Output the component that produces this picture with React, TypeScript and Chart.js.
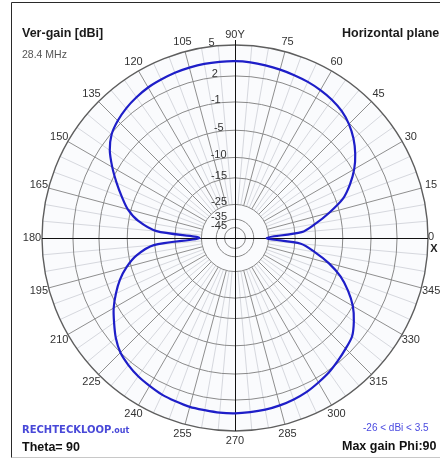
import { useEffect, useRef } from 'react';
import { Chart, registerables, RadialLinearScale } from 'chart.js';

Chart.register(...registerables);

// Horizontal-plane gain in dBi, sampled every 5 degrees (0 = +X, counter-clockwise).
const GAIN_Q1 = [-26, -13.2, -9.8, -6.7, -3.9, -2.2, -0.8, 0.3, 1.2, 1.9, 2.4, 2.7, 2.9, 3.05, 3.15, 3.25, 3.35, 3.45];
const GAIN_Q2 = [3.5, 3.5, 3.5, 3.45, 3.4, 3.3, 3.2, 3.0, 2.75, 2.4, 1.9, 1.0, -0.3, -1.7, -3.1, -4.5, -6.6, -10.4];
const GAIN_Q3 = [-24, -9.8, -6.3, -4.3, -2.8, -1.6, -0.5, 0.4, 1.3, 2.0, 2.4, 2.7, 2.9, 3.1, 3.2, 3.3, 3.3, 3.35];
const GAIN_Q4 = [3.35, 3.3, 3.25, 3.15, 3.0, 2.8, 2.5, 2.2, 1.8, 1.4, 1.0, 0.1, -1.0, -2.5, -4.3, -6.8, -9.9, -13.4];

const PHI_STEP = 5;
const RING_DBI = [5, 2, -1, -5, -10, -15, -25, -35, -45];
const OUTER_DBI = 5;
const AXIS_MIN_DBI = -50;
const ANGLE_LABEL_STEP = 15;

const TITLE_LEFT = 'Ver-gain [dBi]';
const FREQ_TEXT = '28.4 MHz';
const TITLE_RIGHT = 'Horizontal plane';
const FILE_NAME = 'RECHTECKLOOP';
const FILE_EXT = '.out';
const THETA_TEXT = 'Theta= 90';
const RANGE_TEXT = '-26 < dBi < 3.5';
const MAX_GAIN_TEXT = 'Max gain Phi:90';

const GAIN_BY_PHI = [...GAIN_Q1, ...GAIN_Q2, ...GAIN_Q3, ...GAIN_Q4];
const N = GAIN_BY_PHI.length; // 72 spokes

// Radar index i runs clockwise from the top, which is phi = 90 degrees.
const phiOfIndex = (i: number) => (((90 - i * PHI_STEP) % 360) + 360) % 360;
const indexOfPhi = (phi: number) => ((((90 - phi) / PHI_STEP) % N) + N) % N;

const RADAR_LABELS = Array.from({ length: N }, (_, i) => String(phiOfIndex(i)));
const RADAR_DATA = Array.from({ length: N }, (_, i) => GAIN_BY_PHI[phiOfIndex(i) / PHI_STEP]);

// ARRL log radial scale: every 2 dB below the outer ring multiplies the radius by 0.89.
class ArrlLogRadialScale extends RadialLinearScale {
  static id = 'arrlLogRadial';
  static defaults = RadialLinearScale.defaults;
  getDistanceFromCenterForValue(value: number) {
    if (value === null || value === undefined || Number.isNaN(value)) return NaN;
    return this.drawingArea * Math.pow(0.89, (this.max - value) / 2);
  }
}
Chart.register(ArrlLogRadialScale as any);

const SANS = "'Liberation Sans', Arial, sans-serif";

function putText(
  ctx: CanvasRenderingContext2D,
  str: string,
  x: number,
  y: number,
  font: string,
  color: string,
  align: CanvasTextAlign = 'left',
  baseline: CanvasTextBaseline = 'alphabetic'
) {
  ctx.font = font;
  ctx.fillStyle = color;
  ctx.textAlign = align;
  ctx.textBaseline = baseline;
  ctx.fillText(str, x, y);
}

const decor = {
  id: 'mmanaDecor',
  beforeDraw(chart: any) {
    const ctx: CanvasRenderingContext2D = chart.ctx;
    const s = chart.scales.r;
    const W = chart.width;
    const H = chart.height;
    ctx.save();
    ctx.fillStyle = '#ffffff';
    ctx.fillRect(0, 0, W, H);

    // window frame
    ctx.strokeStyle = '#c8c8c8';
    ctx.lineWidth = 1;
    ctx.beginPath();
    ctx.moveTo(11.5, 457.5);
    ctx.lineTo(W + 2, 457.5);
    ctx.stroke();
    ctx.strokeStyle = '#2a2a2a';
    ctx.beginPath();
    ctx.moveTo(11.5, 457.5);
    ctx.lineTo(11.5, 2.5);
    ctx.lineTo(W + 2, 2.5);
    ctx.stroke();

    // plot disc
    ctx.fillStyle = '#fafbfd';
    ctx.beginPath();
    ctx.arc(s.xCenter, s.yCenter, s.drawingArea, 0, Math.PI * 2);
    ctx.fill();

    // spokes: light every 5 deg, grey every 15 deg, outside the -25 dBi ring
    const inner = s.getDistanceFromCenterForValue(-25);
    const outer = s.drawingArea;
    for (let i = 0; i < N; i++) {
      const phi = phiOfIndex(i);
      if (phi % 90 === 0) continue;
      const major = phi % ANGLE_LABEL_STEP === 0;
      const a = s.getPointPosition(i, inner);
      const b = s.getPointPosition(i, outer);
      ctx.strokeStyle = major ? '#8f8f8f' : '#d6d8de';
      ctx.lineWidth = 1;
      ctx.beginPath();
      ctx.moveTo(a.x, a.y);
      ctx.lineTo(b.x, b.y);
      ctx.stroke();
    }
    ctx.restore();
  },
  beforeDatasetsDraw(chart: any) {
    const ctx: CanvasRenderingContext2D = chart.ctx;
    const s = chart.scales.r;
    const R = s.drawingArea;
    ctx.save();
    ctx.strokeStyle = '#111111';
    ctx.lineWidth = 1;
    const l = s.getPointPosition(indexOfPhi(180), R);
    const r = s.getPointPosition(indexOfPhi(0), R);
    const t = s.getPointPosition(indexOfPhi(90), R + 5);
    const b = s.getPointPosition(indexOfPhi(270), R);
    ctx.beginPath();
    ctx.moveTo(l.x, Math.round(l.y) + 0.5);
    ctx.lineTo(r.x, Math.round(r.y) + 0.5);
    ctx.moveTo(Math.round(t.x) + 0.5, t.y);
    ctx.lineTo(Math.round(b.x) + 0.5, b.y);
    ctx.stroke();
    ctx.restore();
  },
  afterDraw(chart: any) {
    const ctx: CanvasRenderingContext2D = chart.ctx;
    const s = chart.scales.r;
    const R = s.drawingArea;
    const cx = s.xCenter;
    const cy = s.yCenter;
    ctx.save();

    // azimuth labels
    for (let phi = 0; phi < 360; phi += ANGLE_LABEL_STEP) {
      const i = indexOfPhi(phi);
      if (phi === 0) {
        const p = s.getPointPosition(i, R + 3);
        putText(ctx, '0', p.x, p.y - 1, `11px ${SANS}`, '#333', 'center', 'middle');
        putText(ctx, 'X', p.x + 3, p.y + 11, `bold 11px ${SANS}`, '#222', 'center', 'middle');
        continue;
      }
      const label = phi === 90 ? '90Y' : String(phi);
      const p = s.getPointPosition(i, R + 10);
      putText(ctx, label, p.x, p.y, `11px ${SANS}`, '#333', 'center', 'middle');
    }

    // ring labels beside the vertical axis
    for (const v of RING_DBI) {
      const r = s.getDistanceFromCenterForValue(v);
      const x = cx - Math.max(8, r * 0.105);
      putText(ctx, String(v), x, cy - r - 2, `11px ${SANS}`, '#333', 'right', 'middle');
    }

    // captions
    putText(ctx, TITLE_LEFT, 22, 37, `bold 12.5px ${SANS}`, '#1a1a1a');
    putText(ctx, FREQ_TEXT, 22, 58, `10.5px ${SANS}`, '#555');
    putText(ctx, TITLE_RIGHT, 342, 37, `bold 12.5px ${SANS}`, '#1a1a1a');
    ctx.font = `bold 10px 'DejaVu Sans', sans-serif`;
    const fw = ctx.measureText(FILE_NAME).width;
    putText(ctx, FILE_NAME, 22, 433, `bold 10px 'DejaVu Sans', sans-serif`, '#4848d8');
    putText(ctx, FILE_EXT, 22 + fw, 433, `bold 8px 'DejaVu Sans', sans-serif`, '#4848d8');
    putText(ctx, THETA_TEXT, 22, 451, `bold 12.5px ${SANS}`, '#111');
    putText(ctx, RANGE_TEXT, 363, 431, `10px ${SANS}`, '#4a4ae0');
    putText(ctx, MAX_GAIN_TEXT, 342, 450, `bold 12.5px ${SANS}`, '#111');
    ctx.restore();
  },
};

export default function App() {
  const canvasRef = useRef<HTMLCanvasElement | null>(null);

  useEffect(() => {
    const canvas = canvasRef.current;
    if (!canvas) return;
    const chart = new Chart(canvas, {
      type: 'radar',
      data: {
        labels: RADAR_LABELS,
        datasets: [
          {
            data: RADAR_DATA,
            borderColor: '#1e1ec8',
            borderWidth: 2.2,
            pointRadius: 0,
            pointHoverRadius: 0,
            fill: false,
            tension: 0.3,
          },
        ],
      },
      options: {
        animation: false,
        responsive: true,
        maintainAspectRatio: false,
        layout: { padding: { left: 42, top: 45, right: 12, bottom: 32 } },
        plugins: { legend: { display: false }, tooltip: { enabled: false } },
        scales: {
          r: {
            type: 'arrlLogRadial' as any,
            min: AXIS_MIN_DBI,
            max: OUTER_DBI,
            startAngle: 0,
            afterBuildTicks: (sc: any) => {
              sc.ticks = [...RING_DBI].sort((a, b) => a - b).map((v) => ({ value: v }));
            },
            ticks: { display: false },
            pointLabels: { display: false },
            angleLines: { display: false },
            grid: {
              circular: true,
              color: (c: any) => (c.tick && c.tick.value === OUTER_DBI ? '#5e5e5e' : '#8a8a8a'),
              lineWidth: (c: any) => (c.tick && c.tick.value === OUTER_DBI ? 1.4 : 1),
            },
          },
        },
      } as any,
      plugins: [decor],
    });
    return () => chart.destroy();
  }, []);

  return (
    <div style={{ position: 'absolute', left: 0, top: 0, width: 440, height: 463 }}>
      <canvas ref={canvasRef} />
    </div>
  );
}
